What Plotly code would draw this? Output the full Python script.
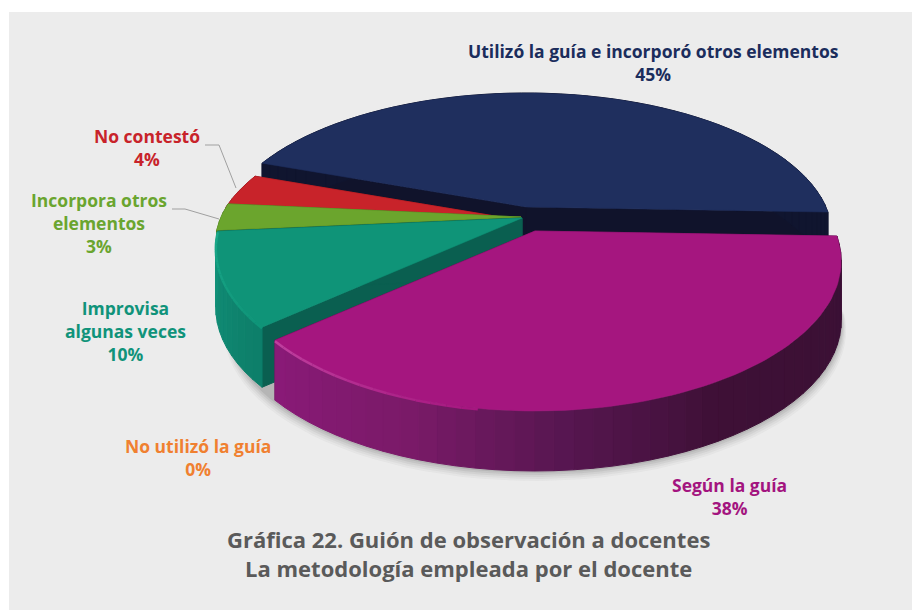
import math
import plotly.graph_objects as go

# ---- data ----
labels = ["Utilizó la guía e incorporó otros elementos", "Según la guía", "No utilizó la guía",
          "Improvisa<br>algunas veces", "Incorpora otros<br>elementos", "No contestó"]
values = [45, 38, 0, 10, 3, 4]
top_colors = ["#1f2f5e", "#a5167f", "#f08030", "#0f9478", "#6ba52d", "#c8232a"]
text_colors = ["#1b2d5c", "#a3147f", "#f08030", "#10937a", "#6aa52f", "#c8232a"]
face_colors = ["#10132b", "#5a1050", "#f08030", "#0a5f50", "#4d7a20", "#8a1a1e"]
title_lines = ["Gráfica 22. Guión de observación a docentes", "La metodología empleada por el docente"]

# ---- pie geometry -----
START = -70.0
RX, RY, K, DEPTH, BACK = 300.0, 144.0, 0.2, 60.0, 0.95
centers = {0: (526, 207), 1: (535, 231), 2: (522, 219), 3: (522, 218), 4: (521, 217), 5: (519, 220)}
side_stops = {
    0: [(0, "#10152f"), (1, "#10152f")],
    1: [(90, "#3a1034"), (150, "#3e1036"), (175, "#561650"), (200, "#7a1a68"), (229, "#8a1a78")],
    3: [(227, "#0d7d68"), (265, "#12917a")],
    4: [(260, "#4d7a20"), (275, "#4d7a20")],
    5: [(270, "#8a1a1e"), (290, "#8a1a1e")],
}
rim_colors = {1: "#c0409f", 3: "#1aa98a"}


def proj(center, theta, r=1.0, z=0.0):
    t = math.radians(theta)
    u, v = r * math.sin(t), -r * math.cos(t)
    s = 1.0 / (1.0 - K * v)
    ry = RY * BACK if v < 0 else RY
    return center[0] + RX * u * s, center[1] + ry * v * s + z


def mix(stops, th):
    stops = sorted(stops)
    if th <= stops[0][0]:
        return stops[0][1]
    for (a, ca), (b, cb) in zip(stops, stops[1:]):
        if th <= b:
            f = (th - a) / (b - a)
            p = [int(ca[i:i + 2], 16) for i in (1, 3, 5)]
            q = [int(cb[i:i + 2], 16) for i in (1, 3, 5)]
            return "#%02x%02x%02x" % tuple(round(x + (y - x) * f) for x, y in zip(p, q))
    return stops[-1][1]


fig = go.Figure()


def poly(pts, fill, line=None, width=1):
    xs = [p[0] for p in pts] + [pts[0][0]]
    ys = [p[1] for p in pts] + [pts[0][1]]
    fig.add_trace(go.Scatter(x=xs, y=ys, mode="lines", fill="toself", fillcolor=fill,
                             line=dict(color=line or fill, width=width),
                             hoverinfo="skip", showlegend=False))


# spans from the values
angles, a = {}, START
for i, v in enumerate(values):
    angles[i] = (a, a + v * 3.6)
    a += v * 3.6

# soft shadow under the lower rim
for grow, alpha in [(10, 0.05), (8, 0.06), (6, 0.08), (4, 0.10), (2, 0.14)]:
    c = centers[1]
    pts = []
    for th in range(95, 255, 3):
        x, y = proj(c, th, z=DEPTH)
        t = math.radians(th)
        pts.append((x + grow * 0.5 * math.sin(t), y + grow))
    poly(pts, "rgba(90,90,90,%.2f)" % alpha, "rgba(0,0,0,0)", 0)

# draw order: back slices first, the magenta slice last
for i in [0, 5, 4, 3, 1]:
    t0, t1 = angles[i]
    c = centers[i]
    apex = c
    # radial cut faces
    for th in (t0, t1):
        p, p2 = proj(c, th), proj(c, th, z=DEPTH)
        poly([apex, p, p2, (apex[0], apex[1] + DEPTH)], face_colors[i])
    # outer wall
    n = max(2, int((t1 - t0) / 3))
    for j in range(n):
        a0 = t0 + (t1 - t0) * j / n
        a1 = t0 + (t1 - t0) * (j + 1) / n
        col = mix(side_stops[i], (a0 + a1) / 2)
        poly([proj(c, a0), proj(c, a1), proj(c, a1, z=DEPTH), proj(c, a0, z=DEPTH)], col)
    # top face
    n = int((t1 - t0) / 1.5) + 2
    arc = [proj(c, t0 + (t1 - t0) * j / n) for j in range(n + 1)]
    poly([apex] + arc, top_colors[i], top_colors[i], 0.5)
    # bright bevel on the lit rim, fading towards the middle of the arc
    if i in rim_colors:
        lo = t1 - min(t1 - t0, 40)
        steps = 16
        for j in range(steps):
            b0 = lo + (t1 - lo) * j / steps
            b1 = lo + (t1 - lo) * (j + 1) / steps
            col = mix([(lo, top_colors[i]), (t1, rim_colors[i])], (b0 + b1) / 2)
            p0, p1 = proj(c, b0, z=1), proj(c, b1, z=1)
            fig.add_trace(go.Scatter(x=[p0[0], p1[0]], y=[p0[1], p1[1]], mode="lines",
                                     line=dict(color=col, width=2.5),
                                     hoverinfo="skip", showlegend=False))

FONT = "Open Sans"
ann = []
label_pos = {0: (653, 62), 1: (729, 496), 2: (198, 457), 3: (125, 331), 4: (99, 223), 5: (147, 147)}
for i, (x, y) in label_pos.items():
    ann.append(dict(x=x, y=y, xref="x", yref="y", showarrow=False, align="center",
                    text=f"<b>{labels[i]}<br>{values[i]}%</b>",
                    font=dict(family=FONT, size=17.5, color=text_colors[i])))
ann.append(dict(x=468, y=553, xref="x", yref="y", showarrow=False, align="center",
                text="<b>" + "<br>".join(title_lines) + "</b>",
                font=dict(family=FONT, size=22, color="#5a5a5a")))

shapes = [
    dict(type="rect", xref="x", yref="y", x0=9, y0=12, x1=912, y1=610, layer="below",
         fillcolor="#ececec", line=dict(width=0)),
    dict(type="path", xref="x", yref="y", path="M205,145 L219,145 L236,188",
         line=dict(color="#a0a0a0", width=1)),
    dict(type="path", xref="x", yref="y", path="M172,209 L185,209 L219,219",
         line=dict(color="#a0a0a0", width=1)),
]

fig.update_layout(width=912, height=610, margin=dict(l=0, r=0, t=0, b=0),
                  paper_bgcolor="white", plot_bgcolor="white", showlegend=False,
                  xaxis=dict(range=[0, 912], visible=False, fixedrange=True),
                  yaxis=dict(range=[610, 0], visible=False, fixedrange=True),
                  annotations=ann, shapes=shapes)
fig.write_html("out.html", config={"displayModeBar": False},
               post_script="document.body.style.margin='0';")
